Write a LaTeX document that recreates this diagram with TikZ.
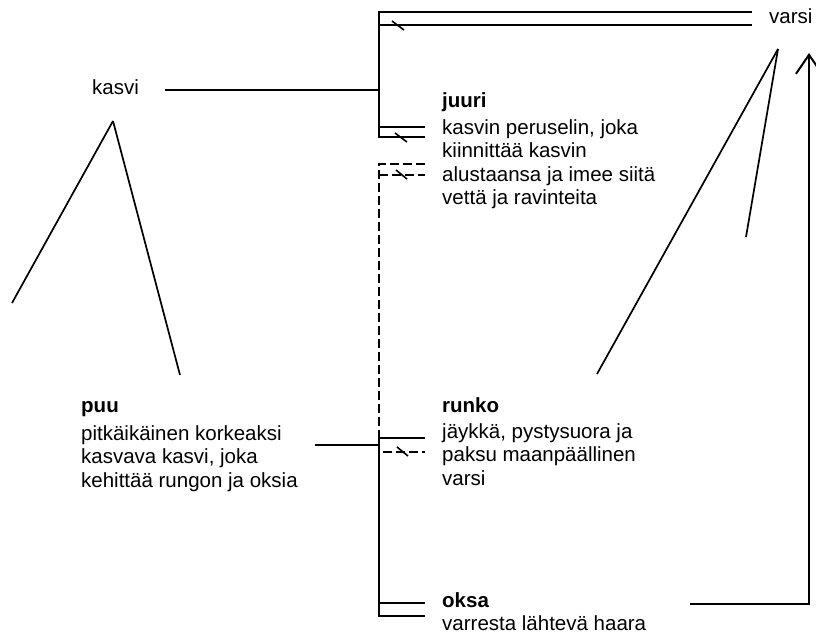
\documentclass[tikz,border=0pt]{standalone}
\usepackage{fontspec}
\setmainfont{Liberation Sans}
\usetikzlibrary{arrows.meta}

\begin{document}
\begin{tikzpicture}[x=1pt,y=-1pt,
  term/.style={font=\fontsize{20.5}{23.5}\selectfont, inner sep=0pt, anchor=base west, align=left},
  headword/.style={term, font=\fontsize{20.5}{23.5}\selectfont\bfseries},
  rel/.style={line width=2.6pt},
  part/.style={line width=1.6pt},
  dashrel/.style={line width=1.6pt, dash pattern=on 9pt off 4pt},
  tickmark/.style={line width=1.6pt},
  ray/.style={line width=1.7pt},
  back/.style={line width=2pt, -{Straight Barb[length=19pt,width=26pt,line width=2pt]}}]

\useasboundingbox (0,0) rectangle (816,633);

% terms and definitions (a multi-line node sits on the baseline of its last line)
\node[term] (kasvi) at (92,94) {kasvi};
\node[term] (varsi) at (769,23) {varsi};

\node[headword] (juuri) at (442,107) {juuri};
\node[term] (juuri-def) at (442,204.5) {kasvin peruselin, joka\\kiinnittää kasvin\\alustaansa ja imee siitä\\vettä ja ravinteita};

\node[headword] (puu) at (81,412) {puu};
\node[term] (puu-def) at (81,487) {pitkäikäinen korkeaksi\\kasvava kasvi, joka\\kehittää rungon ja oksia};

\node[headword] (runko) at (442,412) {runko};
\node[term] (runko-def) at (442,485) {jäykkä, pystysuora ja\\paksu maanpäällinen\\varsi};

\node[headword] (oksa) at (442,607) {oksa};
\node[term] (oksa-def) at (442,630) {varresta lähtevä haara};

% connection points
\coordinate (kasvi-out) at (165,90);
\coordinate (kasvi-hub) at (379,90);
\coordinate (kasvi-apex) at (113,121);
\coordinate (varsi-apex) at (778,49);
\coordinate (top-a) at (379,12);
\coordinate (top-b) at (379,25);
\coordinate (varsi-a) at (752,12);
\coordinate (varsi-b) at (752,25);
\coordinate (juuri-a) at (425,127);
\coordinate (juuri-b) at (425,137);
\coordinate (juuri-ta) at (379,127);
\coordinate (juuri-tb) at (379,137);
\coordinate (dash-top) at (379,164);
\coordinate (dash-topr) at (425,164);
\coordinate (dash-mid) at (379,175);
\coordinate (dash-midr) at (425,175);
\coordinate (dash-bot) at (379,452);
\coordinate (runko-c) at (425,452);
\coordinate (runko-a) at (425,438);
\coordinate (runko-ta) at (379,438);
\coordinate (puu-out) at (315,445);
\coordinate (puu-hub) at (379,445);
\coordinate (oksa-ta) at (379,603);
\coordinate (oksa-a) at (425,603);
\coordinate (oksa-tb) at (379,616);
\coordinate (oksa-b) at (425,616);
\coordinate (back-start) at (690,604);
\coordinate (back-corner) at (809,604);
\coordinate (back-end) at (809,53);

% kasvi: generic tree
\draw[rel] (kasvi-out) -- (kasvi-hub);
\draw[rel] (varsi-b) -- (top-b) -- (juuri-ta) -- (juuri-a);
\draw[part] (varsi-a) -- (top-a) -- (juuri-tb) -- (juuri-b);
\draw[tickmark] (392,21) -- (404,30);
\draw[tickmark] (395,133) -- (407,142);

% dashed relation down to runko
\draw[dashrel] (dash-topr) -- (dash-top) -- (dash-bot) -- (runko-c);
\draw[dashrel] (dash-mid) -- (dash-midr);
\draw[tickmark] (396,170) -- (407,179);
\draw[tickmark] (397,447) -- (408,456);

% puu: tree to oksa
\draw[part] (runko-a) -- (runko-ta) -- (oksa-tb) -- (oksa-b);
\draw[rel] (puu-out) -- (puu-hub) -- (oksa-ta) -- (oksa-a);

% return arrow from oksa to varsi
\draw[back] (back-start) -- (back-corner) -- (back-end);

% rays from kasvi and varsi
\draw[ray] (kasvi-apex) -- (12,303);
\draw[ray] (kasvi-apex) -- (180,375);
\draw[ray] (varsi-apex) -- (597,374);
\draw[ray] (varsi-apex) -- (746,237);
\end{tikzpicture}
\end{document}
